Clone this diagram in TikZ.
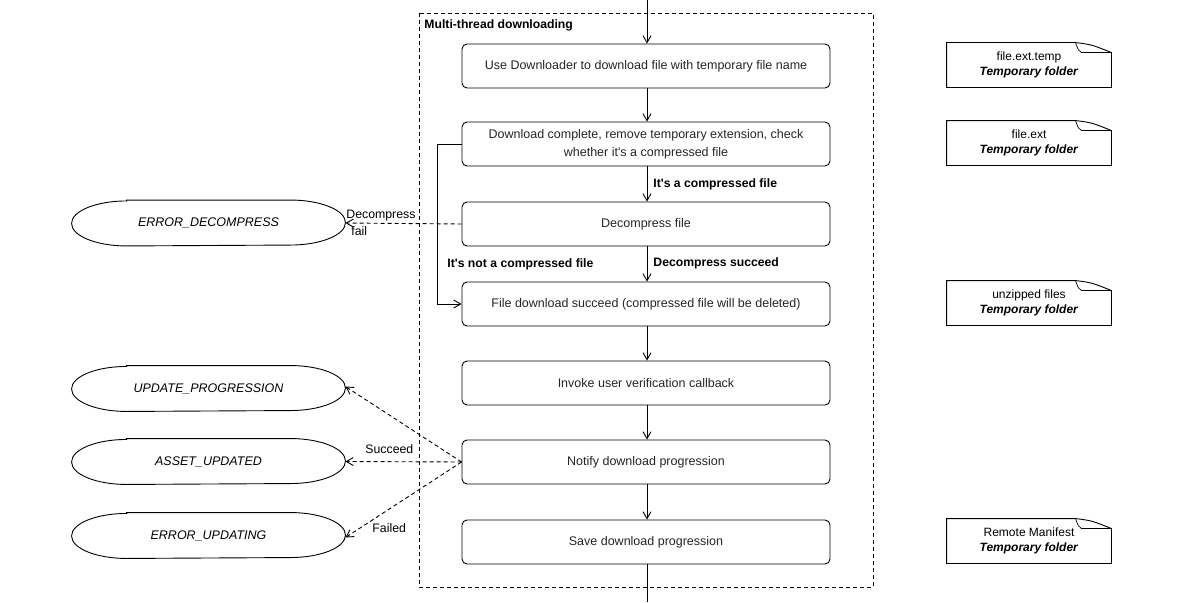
\documentclass[tikz,border=0pt]{standalone}
\usepackage{fontspec}
\setmainfont{Liberation Sans}
\usetikzlibrary{arrows.meta,calc}
\definecolor{txt}{gray}{0.15}
\newcommand\apos{\textquotesingle}
\tikzset{
  x=1pt,y=-1pt,
  >={Straight Barb[length=7pt,width=8pt]},
  every path/.style={line width=0.9pt},
  stepbox/.style={draw,rounded corners=5pt,minimum width=368pt,minimum height=44pt,align=center,font=\fontsize{12.5}{18}\selectfont,text=txt,inner sep=0pt},
  ovaltext/.style={minimum width=273pt,minimum height=45pt,inner sep=0pt,font=\fontsize{12.5}{14}\selectfont\itshape},
  notebox/.style={minimum width=164pt,minimum height=44pt,inner sep=0pt,align=center,font=\fontsize{12}{15}\selectfont},
  lbl/.style={font=\fontsize{12.2}{14}\selectfont\bfseries,inner sep=0pt},
  lblr/.style={font=\fontsize{12.3}{17}\selectfont,inner sep=0pt},
  dashline/.style={dash pattern=on 4pt off 3pt},
  conn/.style={->},
}
\newcommand\ovalline[1]{%
  \draw ([xshift=55pt]#1.north west) -- ([xshift=-55pt]#1.north east)
    arc[start angle=90,end angle=-90,x radius=55pt,y radius=22.5pt]
    -- ([xshift=55pt]#1.south west)
    arc[start angle=270,end angle=90,x radius=55pt,y radius=22.5pt] -- cycle;}
\newcommand\noteline[1]{%
  \draw (#1.south west) -- (#1.north west) -- ([xshift=-36pt]#1.north east)
     .. controls ([xshift=-20pt,yshift=-2pt]#1.north east) .. ([yshift=-10pt]#1.north east) -- (#1.south east) -- cycle;
  \draw[line width=0.7pt] ([xshift=-36pt]#1.north east) .. controls ([xshift=-33pt,yshift=-8pt]#1.north east) .. ([xshift=-30pt,yshift=-10pt]#1.north east) -- ([yshift=-10pt]#1.north east);}
\begin{document}
\begin{tikzpicture}
\useasboundingbox (0,0) rectangle (1201,602);
\fill[white] (0,0) rectangle (1201,602);
% frame
\draw[dashline] (419,13) rectangle (873,587);
\node[lbl,anchor=west] (title) at (424,25) {Multi-thread downloading};
% steps
\node[stepbox] (b1) at (646,66) {Use Downloader to download file with temporary file name};
\node[stepbox] (b2) at (646,144) {Download complete, remove temporary extension, check\\whether it\apos s a compressed file};
\node[stepbox] (b3) at (646,224) {Decompress file};
\node[stepbox] (b4) at (646,304) {File download succeed (compressed file will be deleted)};
\node[stepbox] (b5) at (646,383) {Invoke user verification callback};
\node[stepbox] (b6) at (646,462) {Notify download progression};
\node[stepbox] (b7) at (646,542) {Save download progression};
\coordinate (top) at (647,0);
\coordinate (bot) at (647,602);
\draw[conn] (top) -- (top|-b1.north);
\draw[conn] (b1.south-|top) -- (b2.north-|top);
\draw[conn] (b2.south-|top) -- (b3.north-|top);
\draw[conn] (b3.south-|top) -- (b4.north-|top);
\draw[conn] (b4.south-|top) -- (b5.north-|top);
\draw[conn] (b5.south-|top) -- (b6.north-|top);
\draw[conn] (b6.south-|top) -- (b7.north-|top);
\draw (b7.south-|top) -- (bot);
\draw[conn] (b2.west) -- ++(-24,0) |- (b4.west);
% labels
\node[lbl,anchor=west] (l1) at (653,184) {It\apos s a compressed file};
\node[lbl,anchor=west] (l2) at (653,263) {Decompress succeed};
\node[lbl,anchor=west] (l3) at (447,264) {It\apos s not a compressed file};
% ovals
\node[ovaltext] (e1) at (208.5,223) {ERROR\_DECOMPRESS};
\node[ovaltext] (e2) at (208.5,388.5) {UPDATE\_PROGRESSION};
\node[ovaltext] (e3) at (208.5,461.5) {ASSET\_UPDATED};
\node[ovaltext] (e4) at (208.5,535.5) {ERROR\_UPDATING};
\ovalline{e1}\ovalline{e2}\ovalline{e3}\ovalline{e4}
\draw[conn,dashline] (b3.west) -- (e1.east);
\node[lblr,anchor=north west,align=left] (lf) at (346,210) {Decompress\\\hspace{5pt}fail};
\draw[conn,dashline] (b6.west) -- ([yshift=2pt]e2.east);
\draw[conn,dashline] (b6.west) -- (e3.east);
\draw[conn,dashline] (b6.west) -- ([yshift=-2pt]e4.east);
\node[lblr,anchor=west] (ls) at (365,449) {Succeed};
\node[lblr,anchor=west] (lfd) at (372,528) {Failed};
% notes
\node[notebox] (n1) at (1029,65) {file.ext.temp\\\textbf{\textit{Temporary folder}}};
\node[notebox] (n2) at (1029,143) {file.ext\\\textbf{\textit{Temporary folder}}};
\node[notebox] (n3) at (1029,303) {unzipped files\\\textbf{\textit{Temporary folder}}};
\node[notebox] (n4) at (1029,541) {Remote Manifest\\\textbf{\textit{Temporary folder}}};
\noteline{n1}\noteline{n2}\noteline{n3}\noteline{n4}
\end{tikzpicture}
\end{document}
